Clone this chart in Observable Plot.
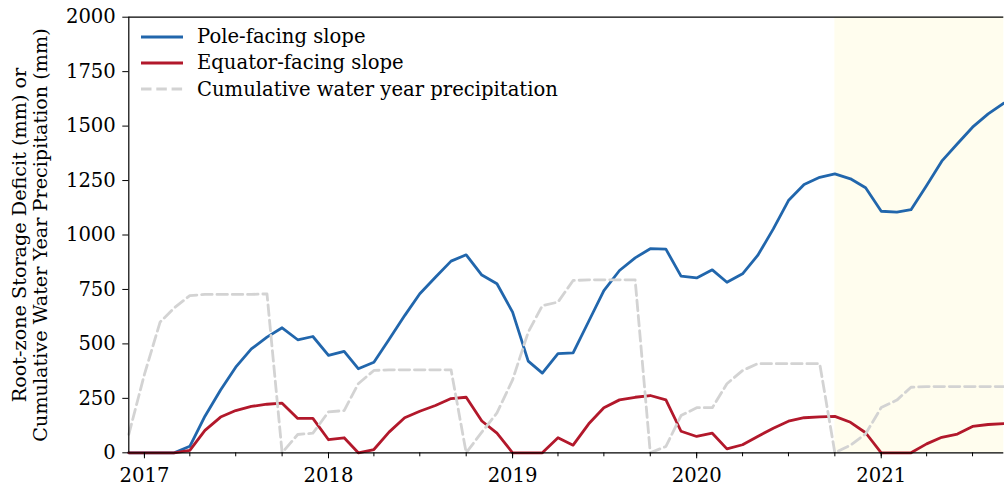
<!DOCTYPE html>
<html><head><meta charset="utf-8">
<script src="https://cdn.jsdelivr.net/npm/d3@7"></script>
<script src="https://cdn.jsdelivr.net/npm/@observablehq/plot@0.6"></script>
<style>
body{margin:0;background:#fff;font-family:"DejaVu Serif",serif;}
#wrap{position:relative;width:1004px;height:486px;overflow:hidden;}
#legend{position:absolute;left:141px;top:23.5px;font-size:19.6px;color:#000;font-family:"DejaVu Serif",serif;}
.row{display:flex;align-items:center;height:26.3px;white-space:nowrap;}
.row svg{margin-right:14px;flex:none;}
</style></head><body>
<div id="wrap"><div id="chart"></div><div id="legend"></div></div>
<script>
// ---- data ----
const firstMonth = "2016-12-01";
const lastMonth = "2021-09-01";
const poleFacing = [0,0,0,0,30,168,288,393,477,531,574,519,534,447,466,386,416,520,630,730,806,880,909,816,776,646,421,366,455,459,604,745,837,895,937,935,811,803,840,783,822,906,1028,1158,1232,1265,1281,1258,1217,1109,1105,1116,1227,1339,1419,1495,1556,1605];
const equatorFacing = [0,0,0,0,11,103,164,194,213,223,228,158,158,60,69,0,15,95,161,191,217,249,255,146,90,0,0,0,69,35,133,207,243,255,263,243,99,75,90,18,37,75,113,145,161,165,167,140,92,0,0,0,41,71,86,121,130,134];
const precipitation = [85,360,600,665,722,727,727,727,727,730,0,84,90,188,194,317,378,381,381,381,381,381,0,95,183,335,554,676,692,791,794,794,794,794,0,29,171,207,207,317,378,409,409,409,409,409,0,35,87,208,242,301,304,304,304,304,304,304];
const seriesNames = ["Pole-facing slope","Equator-facing slope","Cumulative water year precipitation"];
const seriesColors = ["#2166ac","#b2182b","#d3d3d3"];
const yTicks = [0,250,500,750,1000,1250,1500,1750,2000];
const xTickYears = ["2017-01-01","2018-01-01","2019-01-01","2020-01-01","2021-01-01"];
const highlightStart = "2020-10-01";
const yLabelLines = ["Root-zone Storage Deficit (mm) or","Cumulative Water Year Precipitation (mm)"];

// ---- build ----
const t0 = new Date(firstMonth + "T00:00:00Z");
const t1 = new Date(lastMonth + "T00:00:00Z");
const months = d3.utcMonth.range(t0, d3.utcMonth.offset(t1, 1));
const seriesValues = [poleFacing, equatorFacing, precipitation];
const rows = seriesValues.map((vals, s) => vals.map((v, i) => ({date: months[i], value: v, series: seriesNames[s]})));
const yearDates = xTickYears.map(d => new Date(d + "T00:00:00Z"));
const quarterDates = d3.utcMonth.every(3).range(t0, d3.utcDay.offset(t1, 1));
const highlight = [{start: new Date(highlightStart + "T00:00:00Z"), end: t1}];

const chart = Plot.plot({
  width: 1004, height: 486,
  marginLeft: 128.3, marginRight: 0.7, marginTop: 16.7, marginBottom: 33.7,
  style: {fontFamily: "DejaVu Serif", fontSize: "19.6px", color: "#000", background: "transparent", overflow: "visible"},
  x: {type: "utc", domain: [t0, t1]},
  y: {domain: [0, 2000]},
  marks: [
    Plot.rect(highlight, {x1: "start", x2: "end", fill: "#fffdee"}),
    Plot.line(rows[0], {x: "date", y: "value", stroke: seriesColors[0], strokeWidth: 2.8}),
    Plot.line(rows[1], {x: "date", y: "value", stroke: seriesColors[1], strokeWidth: 2.8}),
    Plot.line(rows[2], {x: "date", y: "value", stroke: seriesColors[2], strokeWidth: 2.8, strokeDasharray: "10.5,4.8"}),
    Plot.axisY({ticks: yTicks, tickSize: 6, tickPadding: 7, label: null, tickFormat: d => String(d)}),
    Plot.axisX({ticks: yearDates, tickSize: 6, tickPadding: 9, label: null, tickFormat: d3.utcFormat("%Y")}),
    Plot.axisX({ticks: quarterDates, tickSize: 4, label: null, tickFormat: () => ""}),
    Plot.ruleX([t0], {stroke: "#000", strokeWidth: 1.2}),
    Plot.ruleY([yTicks[0], yTicks[yTicks.length - 1]], {stroke: "#000", strokeWidth: 1.2}),
    Plot.text([yLabelLines[0]], {text: d => d, frameAnchor: "left", textAnchor: "middle", rotate: -90, dx: -109, fontSize: 19.2}),
    Plot.text([yLabelLines[1]], {text: d => d, frameAnchor: "left", textAnchor: "middle", rotate: -90, dx: -87.5, fontSize: 19.2})
  ]
});
document.getElementById("chart").appendChild(chart);

// legend
const legend = d3.select("#legend");
seriesNames.forEach((name, i) => {
  const row = legend.append("div").attr("class", "row");
  const sw = row.append("svg").attr("width", 42).attr("height", 8);
  sw.append("line").attr("x1", 0).attr("x2", 42).attr("y1", 4).attr("y2", 4)
    .attr("stroke", seriesColors[i]).attr("stroke-width", 2.8)
    .attr("stroke-dasharray", i === 2 ? "10.5,4.8" : null);
  row.append("span").text(name);
});
</script>
</body></html>
